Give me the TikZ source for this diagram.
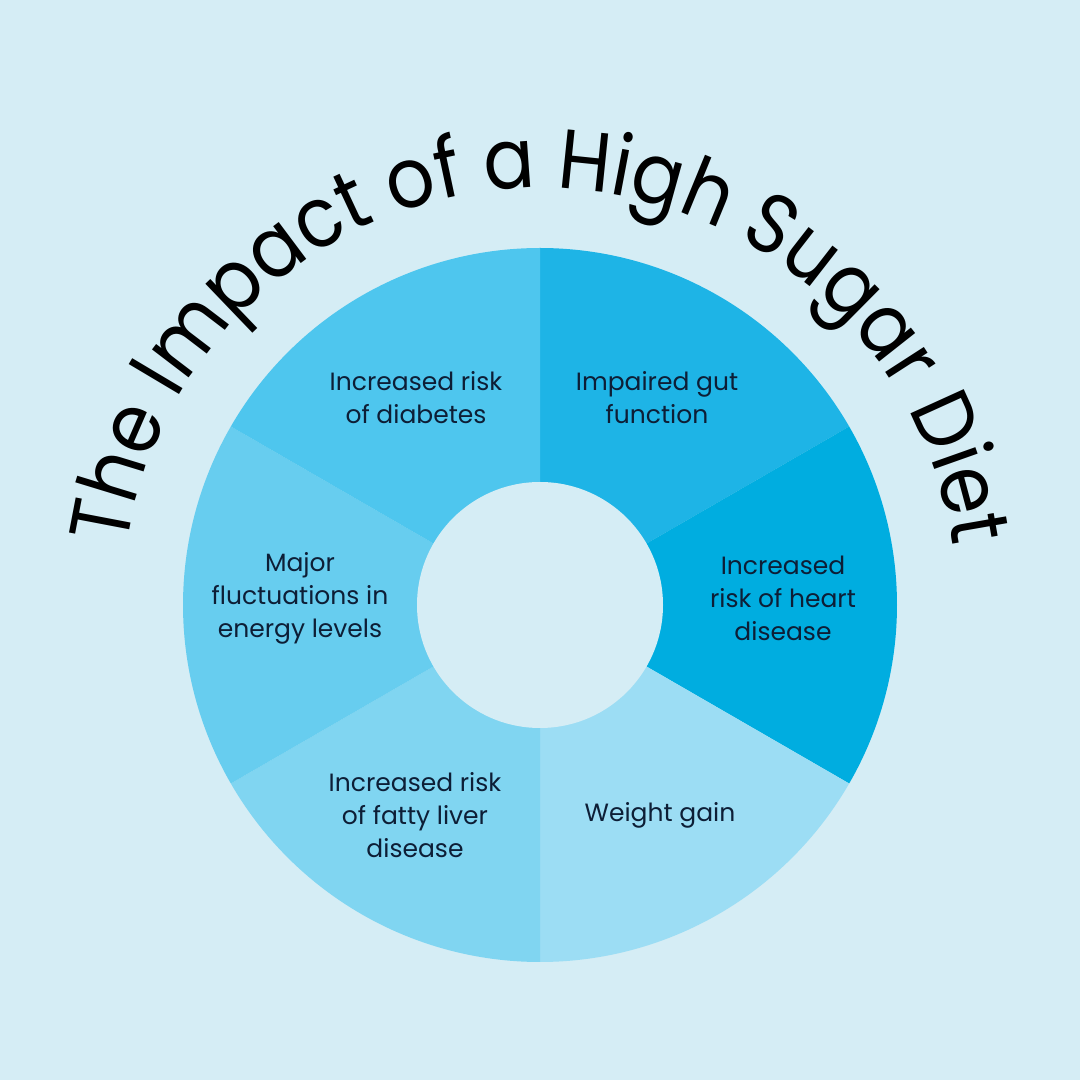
\documentclass[tikz,border=0pt]{standalone}
\usepackage{fontspec}
\usetikzlibrary{decorations.text,calc}
\newfontfamily\popfont{Poppins}
\newfontfamily\poptitle[FakeStretch=0.9]{Poppins}
\definecolor{bgc}{HTML}{D5EDF5}
\definecolor{cdiab}{HTML}{4EC6EE}
\definecolor{cgut}{HTML}{1EB4E6}
\definecolor{cheart}{HTML}{00ADE0}
\definecolor{cweight}{HTML}{9CDDF4}
\definecolor{cliver}{HTML}{80D5F1}
\definecolor{cenergy}{HTML}{67CDEF}
\definecolor{txtc}{HTML}{0D1E36}
\newcommand{\titlefmt}{\poptitle\fontsize{84}{84}\selectfont}
\tikzset{
  lbl/.style={align=center, text=txtc, inner sep=0pt, font=\popfont\fontsize{25}{33}\selectfont},
}
\begin{document}
\begin{tikzpicture}[x=1pt,y=1pt]
\useasboundingbox (0,0) rectangle (1080,1080);
\fill[bgc] (0,0) rectangle (1080,1080);
\coordinate (C) at (540,475);
\def\R{357}
\def\r{123}
\fill[cgut] (C) -- ++(90:\R) arc[start angle=90, end angle=30, radius=\R] -- cycle;
\fill[cheart] (C) -- ++(30:\R) arc[start angle=30, end angle=-30, radius=\R] -- cycle;
\fill[cweight] (C) -- ++(-30:\R) arc[start angle=-30, end angle=-90, radius=\R] -- cycle;
\fill[cliver] (C) -- ++(-90:\R) arc[start angle=-90, end angle=-150, radius=\R] -- cycle;
\fill[cenergy] (C) -- ++(210:\R) arc[start angle=210, end angle=150, radius=\R] -- cycle;
\fill[cdiab] (C) -- ++(150:\R) arc[start angle=150, end angle=90, radius=\R] -- cycle;
\fill[bgc] (C) circle[radius=\r];
\path[decorate, decoration={text along path, text align=center, text color=black,
  text={|\titlefmt|The Impact of a High Sugar Diet}}]
  ($(C)+(191:417)$) arc[start angle=191, end angle=-11, radius=417];
\node[lbl] (diab) at (416,682) {Increased risk\\of diabetes};
\node[lbl] (gut) at (657,682) {Impaired gut\\function};
\node[lbl] (energy) at (300,482) {Major\\fluctuations in\\energy levels};
\node[lbl] (heart) at (783,482) {Increased\\risk of heart\\disease};
\node[lbl] (liver) at (415,265) {Increased risk\\of fatty liver\\disease};
\node[lbl] (weight) at (660,265) {Weight gain};
\end{tikzpicture}
\end{document}
